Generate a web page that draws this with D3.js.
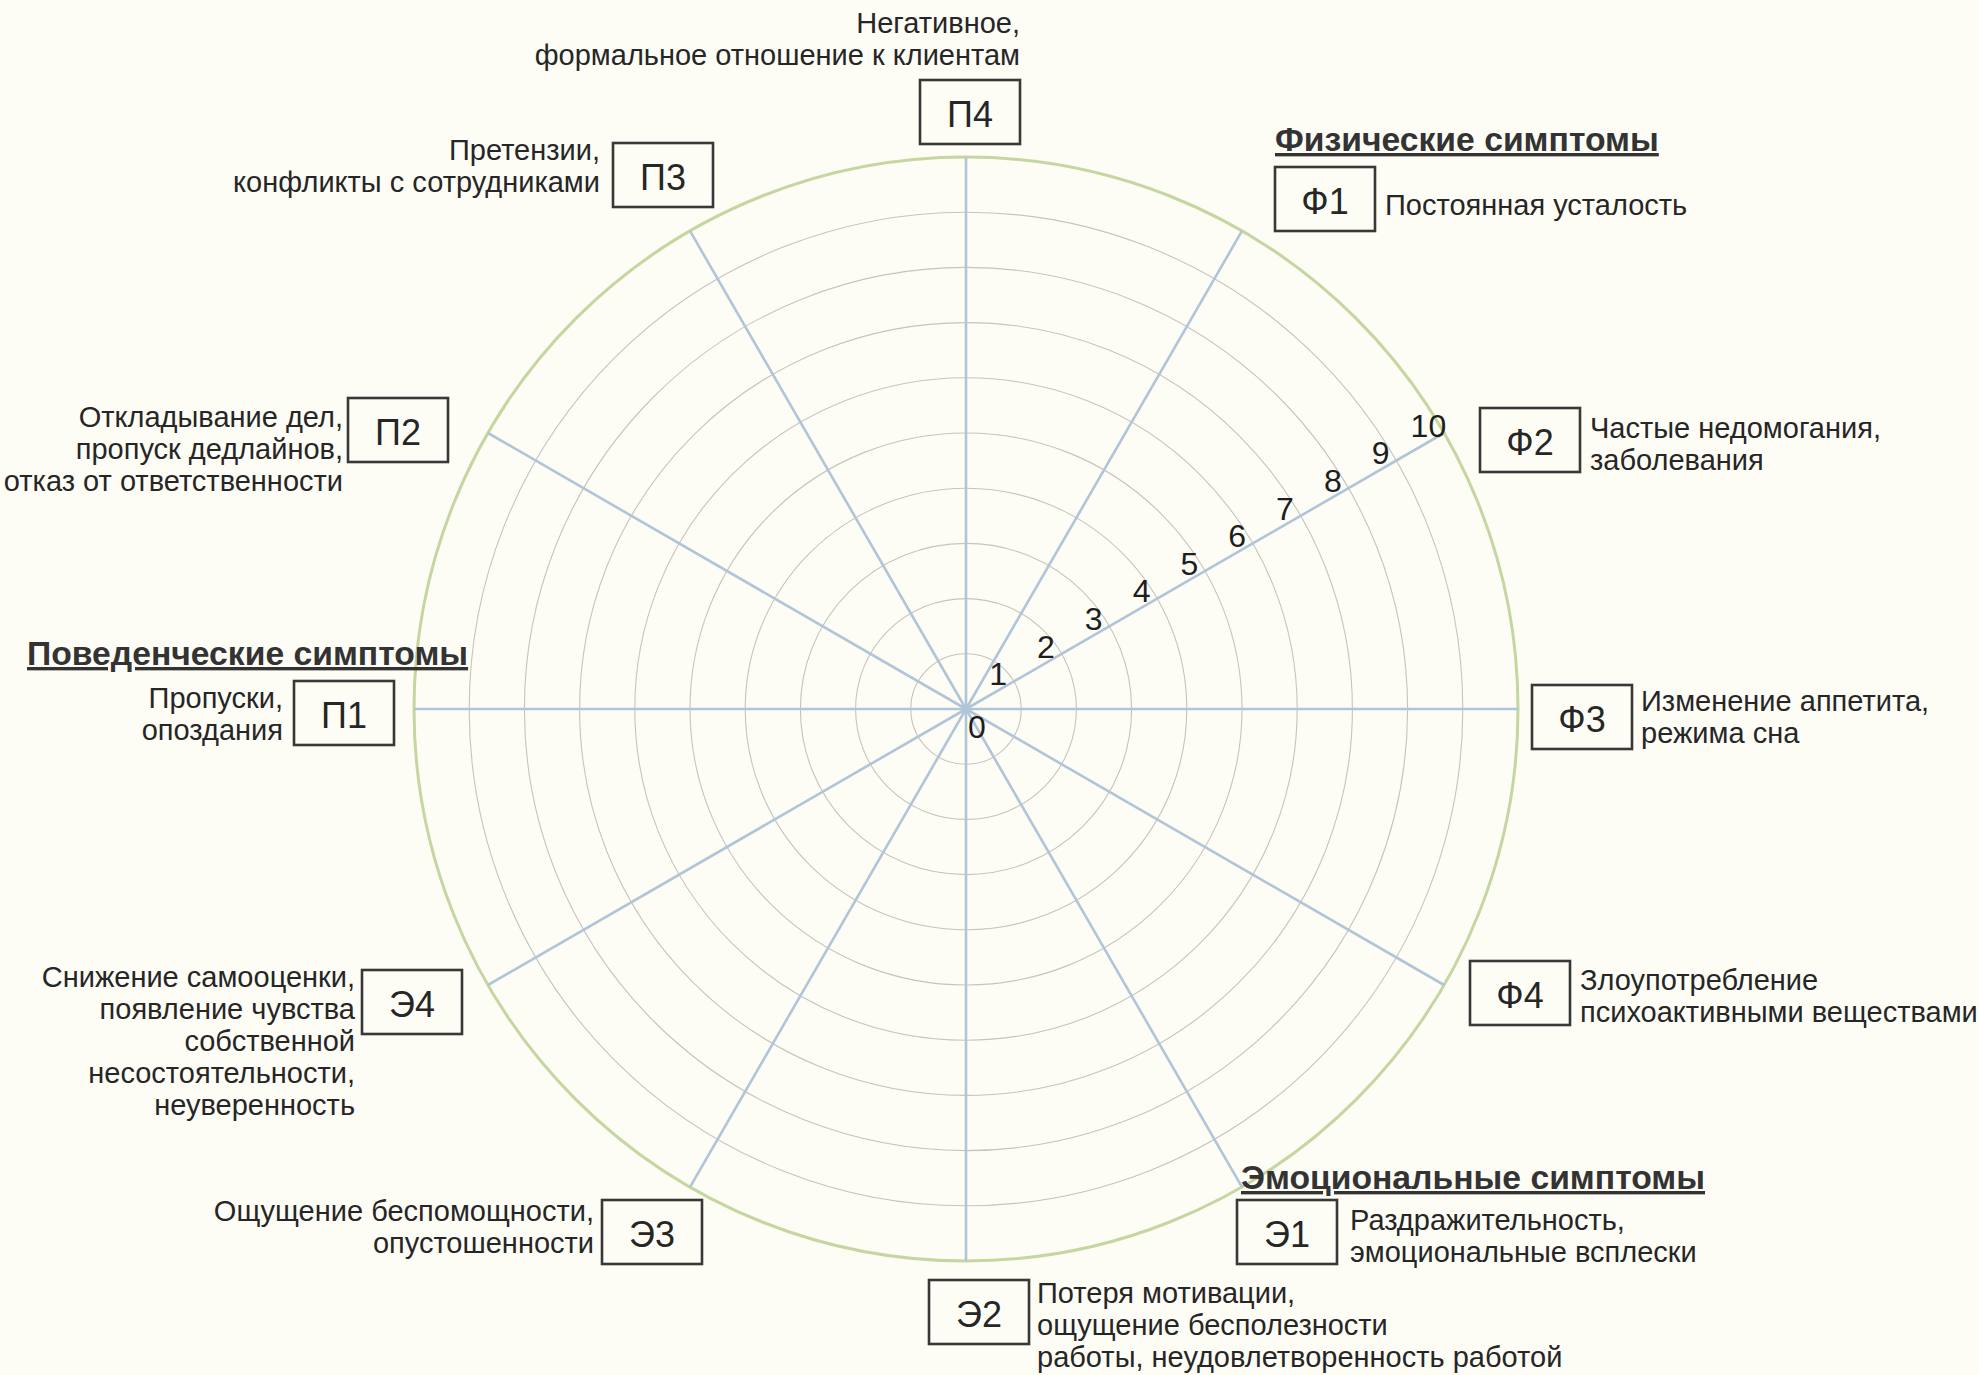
<!DOCTYPE html>
<html><head><meta charset="utf-8">
<script src="https://cdn.jsdelivr.net/npm/d3@7"></script>
<style>
html,body{margin:0;padding:0;background:#fdfdf6;}
svg{display:block;}
</style>
</head><body>
<svg id="chart" width="1979" height="1375"></svg>
<script>
// ---- data ----
const categories = ["Ф1","Ф2","Ф3","Ф4","Э1","Э2","Э3","Э4","П1","П2","П3","П4"];
const descriptions = [
  ["Постоянная усталость"],
  ["Частые недомогания,","заболевания"],
  ["Изменение аппетита,","режима сна"],
  ["Злоупотребление","психоактивными веществами"],
  ["Раздражительность,","эмоциональные всплески"],
  ["Потеря мотивации,","ощущение бесполезности","работы, неудовлетворенность работой"],
  ["Ощущение беспомощности,","опустошенности"],
  ["Снижение самооценки,","появление чувства","собственной","несостоятельности,","неуверенность"],
  ["Пропуски,","опоздания"],
  ["Откладывание дел,","пропуск дедлайнов,","отказ от ответственности"],
  ["Претензии,","конфликты с сотрудниками"],
  ["Негативное,","формальное отношение к клиентам"]
];
const groupTitles = ["Физические симптомы","Эмоциональные симптомы","Поведенческие симптомы"];
const scaleTicks = [0,1,2,3,4,5,6,7,8,9,10];
const scaleAxisCategory = "Ф2";

// ---- layout ----
const W = 1979, H = 1375;
const cx = 966, cy = 709, R = 552;
const svg = d3.select("#chart");
svg.append("rect").attr("width", W).attr("height", H).attr("fill", "#fdfdf6");

const rScale = d3.scaleLinear().domain([0, 10]).range([0, R]);
const aScale = d3.scalePoint().domain(categories)
  .range([Math.PI / 6, Math.PI / 6 + 11 * Math.PI / 6]);
const pt = (a, r) => [cx + r * Math.sin(a), cy - r * Math.cos(a)];

const g = svg.append("g");

// rings
g.selectAll("circle.ring").data(scaleTicks.filter(t => t > 0 && t < 10)).join("circle")
  .attr("class", "ring").attr("cx", cx).attr("cy", cy).attr("r", d => rScale(d))
  .attr("fill", "none").attr("stroke", "#c4c5bc").attr("stroke-width", 1.1);

// outer circle
g.append("circle").attr("cx", cx).attr("cy", cy).attr("r", rScale(10))
  .attr("fill", "none").attr("stroke", "#c6d6a0").attr("stroke-width", 3);

// spokes
g.selectAll("line.spoke").data(categories).join("line")
  .attr("class", "spoke")
  .attr("x1", cx).attr("y1", cy)
  .attr("x2", d => pt(aScale(d), rScale(10))[0])
  .attr("y2", d => pt(aScale(d), rScale(10))[1])
  .attr("stroke", "#b0c5d7").attr("stroke-width", 2.6);

// scale numbers along the Ф2 spoke
const sa = aScale(scaleAxisCategory);
const dir = [Math.sin(sa), -Math.cos(sa)];
const nrm = [-Math.cos(sa), -Math.sin(sa)];
g.selectAll("text.tick").data(scaleTicks.filter(t => t > 0)).join("text")
  .attr("class", "tick")
  .attr("x", d => cx + dir[0] * (rScale(d) - 10) + nrm[0] * 14)
  .attr("y", d => cy + dir[1] * (rScale(d) - 10) + nrm[1] * 14)
  .attr("text-anchor", "middle").attr("dominant-baseline", "central")
  .attr("font-family", "Liberation Sans, Arial, sans-serif").attr("font-size", 32)
  .attr("fill", "#1e1e1e").text(d => d);
g.append("text").attr("x", cx + 11).attr("y", cy + 18)
  .attr("text-anchor", "middle").attr("dominant-baseline", "central")
  .attr("font-family", "Liberation Sans, Arial, sans-serif").attr("font-size", 32)
  .attr("fill", "#1e1e1e").text(scaleTicks[0]);

// label layout (box centre, text anchor, text x, first baseline)
const layout = {
  "Ф1": {bx:1325, by:199, anchor:"start", tx:1385, ty:215},
  "Ф2": {bx:1530, by:440, anchor:"start", tx:1590, ty:438},
  "Ф3": {bx:1582, by:717, anchor:"start", tx:1641, ty:711},
  "Ф4": {bx:1520, by:993, anchor:"start", tx:1580, ty:990},
  "Э1": {bx:1287, by:1232, anchor:"start", tx:1350, ty:1230},
  "Э2": {bx:979, by:1312, anchor:"start", tx:1037, ty:1303},
  "Э3": {bx:652, by:1232, anchor:"end", tx:594, ty:1221},
  "Э4": {bx:412, by:1002, anchor:"end", tx:355, ty:987},
  "П1": {bx:344, by:713, anchor:"end", tx:283, ty:708},
  "П2": {bx:398, by:430, anchor:"end", tx:343, ty:427},
  "П3": {bx:663, by:175, anchor:"end", tx:600, ty:160},
  "П4": {bx:970, by:112, anchor:"end", tx:1020, ty:33}
};
const lineH = 32;
const boxW = 100, boxH = 64;

const lab = svg.append("g").selectAll("g").data(categories).join("g");
lab.append("rect")
  .attr("x", d => layout[d].bx - boxW / 2).attr("y", d => layout[d].by - boxH / 2)
  .attr("width", boxW).attr("height", boxH)
  .attr("fill", "#fdfdf6").attr("stroke", "#383838").attr("stroke-width", 2.6);
lab.append("text")
  .attr("x", d => layout[d].bx).attr("y", d => layout[d].by + 2)
  .attr("text-anchor", "middle").attr("dominant-baseline", "central")
  .attr("font-family", "Liberation Sans, Arial, sans-serif").attr("font-size", 36)
  .attr("fill", "#262626").text(d => d);
lab.append("text")
  .attr("text-anchor", d => layout[d].anchor)
  .attr("font-family", "Liberation Sans, Arial, sans-serif").attr("font-size", 29)
  .attr("fill", "#262626")
  .each(function(d, i) {
    const L = layout[d];
    d3.select(this).selectAll("tspan").data(descriptions[i]).join("tspan")
      .attr("x", L.tx).attr("y", (s, j) => L.ty + j * lineH).text(s => s);
  });

// group titles
const titlePos = [
  {x:1275, y:151},
  {x:1241, y:1189},
  {x:27, y:665}
];
svg.append("g").selectAll("text").data(groupTitles).join("text")
  .attr("x", (d, i) => titlePos[i].x).attr("y", (d, i) => titlePos[i].y)
  .attr("font-family", "Liberation Sans, Arial, sans-serif").attr("font-size", 33.7)
  .attr("font-weight", "bold").attr("fill", "#333")
  .attr("text-decoration", "underline").text(d => d);
</script>
</body></html>
